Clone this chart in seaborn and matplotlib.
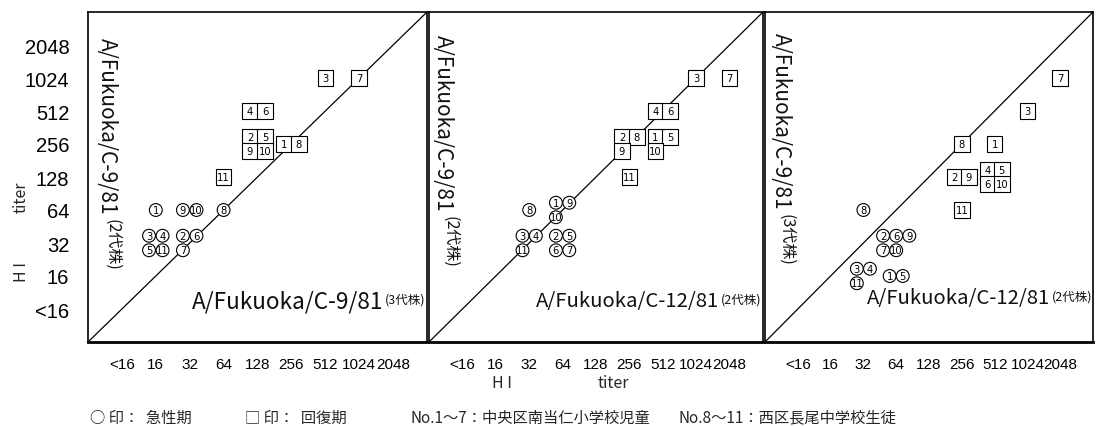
import numpy as np
import pandas as pd
import matplotlib
matplotlib.use("Agg")
import matplotlib.pyplot as plt
from matplotlib.font_manager import FontProperties
import seaborn as sns

# ---------------- data ----------------
titer_labels = ["<16", "16", "32", "64", "128", "256", "512", "1024", "2048"]

# panel 1: x = A/Fukuoka/C-9/81 (3代株), y = A/Fukuoka/C-9/81 (2代株)
p1_acute_id = [1, 3, 4, 5, 11, 2, 6, 7, 8, 9, 10]
p1_acute_x = [16, 16, 16, 16, 16, 32, 32, 32, 64, 32, 32]
p1_acute_y = [64, 32, 32, 32, 32, 32, 32, 32, 64, 64, 64]
p1_recov_id = [1, 8, 2, 5, 9, 10, 3, 4, 6, 7, 11]
p1_recov_x = [256, 256, 128, 128, 128, 128, 512, 128, 128, 1024, 64]
p1_recov_y = [256, 256, 256, 256, 256, 256, 1024, 512, 512, 1024, 128]

# panel 2: x = A/Fukuoka/C-12/81 (2代株), y = A/Fukuoka/C-9/81 (2代株)
p2_acute_id = [1, 9, 10, 2, 5, 6, 7, 3, 4, 11, 8]
p2_acute_x = [64, 64, 64, 64, 64, 64, 64, 32, 32, 32, 32]
p2_acute_y = [64, 64, 64, 32, 32, 32, 32, 32, 32, 32, 64]
p2_recov_id = [1, 5, 10, 2, 8, 9, 3, 4, 6, 7, 11]
p2_recov_x = [512, 512, 512, 256, 256, 256, 1024, 512, 512, 2048, 256]
p2_recov_y = [256, 256, 256, 256, 256, 256, 1024, 512, 512, 1024, 128]

# panel 3: x = A/Fukuoka/C-12/81 (2代株), y = A/Fukuoka/C-9/81 (3代株)
p3_acute_id = [1, 5, 2, 6, 9, 7, 10, 3, 4, 11, 8]
p3_acute_x = [64, 64, 64, 64, 64, 64, 64, 32, 32, 32, 32]
p3_acute_y = [16, 16, 32, 32, 32, 32, 32, 16, 16, 16, 64]
p3_recov_id = [1, 2, 9, 3, 4, 5, 6, 10, 7, 8, 11]
p3_recov_x = [512, 256, 256, 1024, 512, 512, 512, 512, 2048, 256, 256]
p3_recov_y = [256, 128, 128, 512, 128, 128, 128, 128, 1024, 256, 64]

x_names = ["A/Fukuoka/C-9/81", "A/Fukuoka/C-12/81", "A/Fukuoka/C-12/81"]
x_gen = ["(3代株)", "(2代株)", "(2代株)"]
y_names = ["A/Fukuoka/C-9/81", "A/Fukuoka/C-9/81", "A/Fukuoka/C-9/81"]
y_gen = ["(2代株)", "(2代株)", "(3代株)"]

legend_texts = ["○ 印：  急性期", "□ 印：  回復期",
                "No.1～7：中央区南当仁小学校児童", "No.8～11：西区長尾中学校生徒"]

# ---------------- style ----------------
sns.set_theme(style="white")
CJK = ["Noto Sans CJK JP", "DejaVu Sans"]
plt.rcParams["font.family"] = CJK
plt.rcParams["axes.unicode_minus"] = False
tick_fp = FontProperties(family="Liberation Sans")

W, H = 1108, 427
fig = plt.figure(figsize=(W / 100, H / 100), dpi=100)
fig.patch.set_facecolor("white")
renderer = fig.canvas.get_renderer()


def fx(px):
    return px / W


def fy(py):
    return 1 - py / H


def level(t):
    return np.log2(np.asarray(t, dtype=float)) - 3


def build(ids, xs, ys, phase):
    df = pd.DataFrame({"id": ids, "x": level(xs), "y": level(ys)})
    df["phase"] = phase
    dx = 0.40 if phase == "acute" else 0.44
    dy = 0.44
    xp, yp = np.zeros(len(df)), np.zeros(len(df))
    for _, grp in df.groupby(["x", "y"], sort=False):
        n = len(grp)
        ncols = 1 if n == 1 else max(2, int(np.ceil(n / 2)))
        nrows = int(np.ceil(n / ncols))
        for k, idx in enumerate(grp.index):
            r, c = divmod(k, ncols)
            xp[idx] = df.loc[idx, "x"] + (c - (ncols - 1) / 2) * dx
            yp[idx] = df.loc[idx, "y"] + ((nrows - 1) / 2 - r) * dy
    df["xp"], df["yp"] = xp, yp
    return df


panels = [
    (p1_acute_id, p1_acute_x, p1_acute_y, p1_recov_id, p1_recov_x, p1_recov_y),
    (p2_acute_id, p2_acute_x, p2_acute_y, p2_recov_id, p2_recov_x, p2_recov_y),
    (p3_acute_id, p3_acute_x, p3_acute_y, p3_recov_id, p3_recov_x, p3_recov_y),
]
boxes = [(88, 427), (429, 763), (765, 1093)]
top_px, bot_px = 13, 343

for i, (aid, ax_, ay_, rid, rx_, ry_) in enumerate(panels):
    l, r = boxes[i]
    ax = fig.add_axes([fx(l), fy(bot_px), (r - l) / W, (bot_px - top_px) / H])
    df = pd.concat([build(aid, ax_, ay_, "acute"), build(rid, rx_, ry_, "recovery")],
                   ignore_index=True)
    diag = pd.DataFrame({"a": [-1, 9], "b": [-1, 9]})
    sns.lineplot(data=diag, x="a", y="b", color="black", lw=0.9, ax=ax, zorder=1)
    sns.scatterplot(data=df, x="xp", y="yp", style="phase", size="phase",
                    markers={"acute": "o", "recovery": "s"},
                    sizes={"acute": 85, "recovery": 125},
                    color="white", edgecolor="black", linewidth=0.8,
                    legend=False, ax=ax, zorder=3)
    for _, row in df.iterrows():
        ax.text(row["xp"], row["yp"], str(int(row["id"])), ha="center", va="center",
                fontsize=7.2, family="DejaVu Sans", zorder=4, color="black")
    ax.set_xlim(-1, 9)
    ax.set_ylim(-1, 9)
    ax.set_xlabel("")
    ax.set_ylabel("")
    ax.set_xticks(range(9))
    ax.set_xticklabels(titer_labels)
    for lab in ax.get_xticklabels():
        lab.set_fontproperties(tick_fp)
        lab.set_fontsize(11)
    ax.set_yticks(range(9))
    if i == 0:
        ax.set_yticklabels(titer_labels)
        for lab in ax.get_yticklabels():
            lab.set_fontproperties(tick_fp)
            lab.set_fontsize(14.5)
    else:
        ax.set_yticklabels([])
    ax.tick_params(axis="both", direction="in", length=5, width=1, color="black",
                   labelcolor="black")
    ax.tick_params(axis="x", pad=11)
    ax.tick_params(axis="y", pad=13.5)
    for name, sp in ax.spines.items():
        sp.set_visible(True)
        sp.set_color("black")
        sp.set_linewidth(2.0 if name == "bottom" else 1.2)
    ax.set_facecolor("white")

INK = "#111111"
# vertical annotations (y strain): main text then generation note right after it
vpos = [(107, 38, 112), (443, 35, 450), (781, 33, 786)]
for i, (xm, ytop, xg) in enumerate(vpos):
    tm = fig.text(fx(xm), fy(ytop), y_names[i], rotation=-90, ha="center", va="top",
                  fontsize=15, family=CJK, color=INK)
    bb = tm.get_window_extent(renderer)
    fig.text(fx(xg), (bb.y0 - 4) / H, y_gen[i], rotation=-90, ha="center", va="top",
             fontsize=11.5, family=CJK, color=INK)

# horizontal annotations (x strain): generation note right-aligned at panel edge
hpos = [(425, 301, 16.3), (761, 301, 14.6), (1092, 298, 14.6)]
for i, (xr, yc, fs) in enumerate(hpos):
    tg = fig.text(fx(xr), fy(yc - 1), x_gen[i], ha="right", va="center",
                  fontsize=9, family=CJK, color=INK)
    bb = tg.get_window_extent(renderer)
    fig.text((bb.x0 - 1) / W, fy(yc + 1), x_names[i], ha="right", va="center",
             fontsize=fs, family=CJK, color=INK)

# axis titles
fig.text(fx(21), fy(272), "H I", rotation=90, ha="center", va="center", fontsize=11.5,
         family=CJK)
fig.text(fx(21), fy(197), "titer", rotation=90, ha="center", va="center", fontsize=11.5,
         family=CJK)
fig.text(fx(502), fy(384), "H I", ha="center", va="center", fontsize=11.5, family=CJK)
fig.text(fx(613), fy(384), "titer", ha="center", va="center", fontsize=11.5, family=CJK)

# bottom legend line
for txt, xl in zip(legend_texts, [90, 245, 410, 679]):
    fig.text(fx(xl), fy(418), txt, ha="left", va="center", fontsize=11, family=CJK)

fig.savefig("out.png", dpi=100, facecolor="white")
